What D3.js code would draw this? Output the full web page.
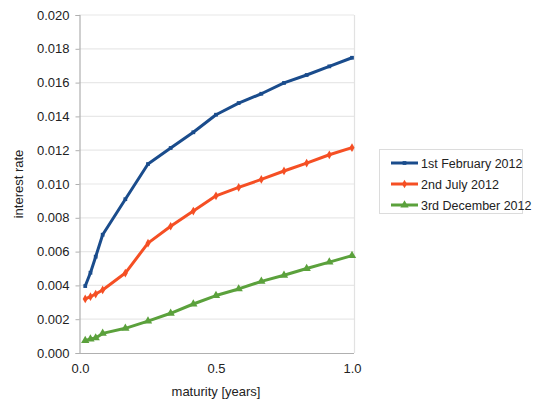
<!DOCTYPE html>
<html><head><meta charset="utf-8">
<script src="https://cdn.jsdelivr.net/npm/d3@7"></script>
<style>body{margin:0;background:#fff}svg{display:block}text{font-family:"Liberation Sans",Arial,sans-serif;fill:#222}</style>
</head><body><svg id="c" width="533" height="404"></svg>
<script>
const maturities = [1/52, 2/52, 3/52, 1/12, 2/12, 3/12, 4/12, 5/12, 6/12, 7/12, 8/12, 9/12, 10/12, 11/12, 1];
const feb2012 = [0.00396, 0.00475, 0.0057, 0.0070, 0.0091, 0.01118, 0.01213, 0.01306, 0.0141, 0.01479, 0.01534, 0.01598, 0.01645, 0.01696, 0.01747];
const jul2012 = [0.0032, 0.00333, 0.00349, 0.00373, 0.00473, 0.0065, 0.0075, 0.0084, 0.0093, 0.0098, 0.01027, 0.01077, 0.01124, 0.01173, 0.01215];
const dec2012 = [0.00073, 0.00083, 0.00089, 0.00116, 0.00146, 0.00189, 0.00235, 0.0029, 0.0034, 0.00379, 0.00424, 0.0046, 0.005, 0.00538, 0.00576];
const seriesNames = ["1st February 2012", "2nd July 2012", "3rd December 2012"];
const yTicks = [0, 0.002, 0.004, 0.006, 0.008, 0.010, 0.012, 0.014, 0.016, 0.018, 0.020];
const xTicks = [0, 0.5, 1.0];

const colors = ["#1A4C8C", "#F54F24", "#5BA13C"];
const markers = [d3.symbolSquare, d3.symbolDiamond, d3.symbolTriangle];
const markerSizes = [14, 22, 30];
const seriesVals = [feb2012, jul2012, dec2012];

const svg = d3.select("#c");
const L = 79, R = 354, T = 15, B = 353;
const x = d3.scaleLinear().domain([0, 1]).range([80, 352]);
const y = d3.scaleLinear().domain([0, 0.02]).range([B, T]);

// grid
svg.append("g").selectAll("line").data(yTicks.slice(1)).join("line")
  .attr("x1", L).attr("x2", R).attr("y1", d => y(d)).attr("y2", d => y(d))
  .attr("stroke", "#e8e8e8").attr("stroke-width", 1.2);
// right border
svg.append("line").attr("x1", R + 0.5).attr("x2", R + 0.5).attr("y1", T).attr("y2", B)
  .attr("stroke", "#e2e2e2").attr("stroke-width", 1.2);

// y axis
const ya = svg.append("g").attr("transform", `translate(${L + 0.5},0)`)
  .call(d3.axisLeft(y).tickValues(yTicks).tickFormat(d3.format(".3f")).tickSize(4).tickPadding(6));
ya.select(".domain").attr("stroke", "#b0b0b0").attr("stroke-width", 1.2);
ya.selectAll(".tick line").attr("stroke", "#b0b0b0");
ya.selectAll("text").attr("font-size", 13).attr("font-family", "Liberation Sans, Arial, sans-serif").attr("fill", "#222");

// x axis
const xa = svg.append("g").attr("transform", `translate(0,${B + 0.5})`)
  .call(d3.axisBottom(x).tickValues(xTicks).tickFormat(d3.format(".1f")).tickSize(0).tickPadding(10));
xa.select(".domain").remove();
svg.append("line").attr("x1", L).attr("x2", R).attr("y1", B + 0.5).attr("y2", B + 0.5)
  .attr("stroke", "#b0b0b0").attr("stroke-width", 1.2);
xa.selectAll("text").attr("font-size", 13).attr("font-family", "Liberation Sans, Arial, sans-serif").attr("fill", "#222");

// axis titles
svg.append("text").attr("x", 216).attr("y", 396).attr("text-anchor", "middle").attr("font-size", 13).text("maturity [years]");
svg.append("text").attr("transform", "translate(23,184) rotate(-90)").attr("text-anchor", "middle").attr("font-size", 13).text("interest rate");

// lines
const line = d3.line().x(d => x(d[0])).y(d => y(d[1]));
seriesVals.forEach((vals, i) => {
  const pts = maturities.map((m, j) => [m, vals[j]]);
  const g = svg.append("g");
  g.append("path").datum(pts).attr("d", line).attr("fill", "none")
    .attr("stroke", colors[i]).attr("stroke-width", 3).attr("stroke-linejoin", "round");
  g.selectAll("path.m").data(pts).join("path").attr("class", "m")
    .attr("transform", d => `translate(${x(d[0])},${y(d[1])})`)
    .attr("d", d3.symbol().type(markers[i]).size(markerSizes[i])).attr("fill", colors[i]);
});

// legend
const lg = svg.append("g");
lg.append("rect").attr("x", 379.5).attr("y", 149.5).attr("width", 143).attr("height", 64)
  .attr("fill", "#fff").attr("stroke", "#dcdcdc");
seriesNames.forEach((n, i) => {
  const yy = 163 + i * 21;
  lg.append("line").attr("x1", 391).attr("x2", 418).attr("y1", yy).attr("y2", yy)
    .attr("stroke", colors[i]).attr("stroke-width", 3);
  lg.append("path").attr("transform", `translate(404.5,${yy})`)
    .attr("d", d3.symbol().type(markers[i]).size(markerSizes[i])).attr("fill", colors[i]);
  lg.append("text").attr("x", 421).attr("y", yy + 4.5).attr("font-size", 12.5).text(n);
});
</script></body></html>
